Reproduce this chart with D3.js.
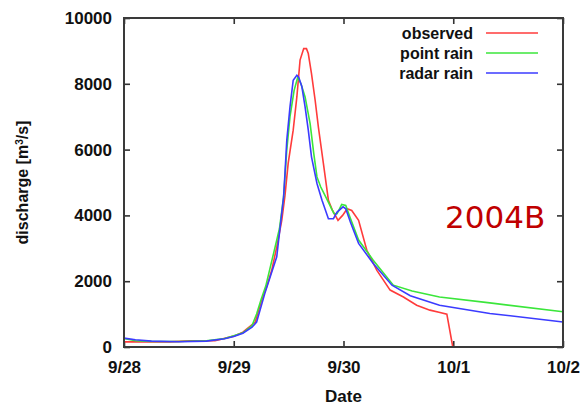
<!DOCTYPE html>
<html>
<head>
<meta charset="utf-8">
<script src="https://cdn.jsdelivr.net/npm/d3@7"></script>
<style>
  body { margin: 0; background: #fff; }
  svg { display: block; }
  .lbl { font-family: "Liberation Sans", Arial, sans-serif; font-weight: bold; fill: #111; }
</style>
</head>
<body>
<svg></svg>
<script>
// ### Data (hours since 9/28 00:00, discharge m3/s) ###
var dayLabels = ['9/28', '9/29', '9/30', '10/1', '10/2'];
var dayHours = [0, 24, 48, 72, 96];
var yTicks = [0, 2000, 4000, 6000, 8000, 10000];
var seriesNames = ['observed', 'point rain', 'radar rain'];
var seriesColors = ['#ff3b3b', '#3be63b', '#3b3bff'];

var obsHours = [0, 10, 14.4, 19.9, 24, 26, 28.7, 30.1, 31.2, 32.3, 33.4, 34.5, 35.2, 35.9, 37, 37.8, 38.5, 39.3, 39.9, 40.3, 41, 41.8, 42.5, 43.6, 44.7, 45.6, 46.8, 47.8, 48.8, 49.8, 51.3, 53.1, 55.3, 58.2, 61.1, 64, 66.9, 69.1, 70.6, 71.9];
var obsQ = [155, 155, 185, 190, 330, 450, 760, 1420, 1830, 2330, 3040, 3850, 4600, 5580, 6590, 7600, 8720, 9070, 9070, 8920, 8310, 7500, 6690, 5580, 4460, 4150, 3850, 4000, 4200, 4150, 3850, 2940, 2330, 1730, 1520, 1270, 1120, 1050, 1000, 0];

var pointHours = [0, 2.5, 6, 12, 18, 22, 24, 26, 28, 29, 30, 31, 32.7, 34, 34.9, 35.6, 36.3, 37.2, 38, 38.7, 39.6, 40.7, 41.5, 42.2, 43, 44.5, 45.4, 45.9, 46.6, 47.6, 48.5, 49.4, 51.3, 54.5, 58.9, 63, 69, 80, 96];
var pointQ = [260, 190, 170, 165, 190, 260, 340, 430, 650, 1000, 1450, 1850, 2840, 3600, 4560, 6000, 7000, 7800, 8200, 8000, 7600, 6790, 5880, 5170, 4870, 4460, 4200, 4060, 4050, 4330, 4300, 3950, 3250, 2640, 1880, 1700, 1520, 1340, 1070];

var radarHours = [0, 2.5, 6, 12, 18, 22, 24, 26, 28, 29, 30.8, 33.4, 34.9, 35.2, 35.6, 36.3, 37, 37.8, 38.2, 38.9, 39.6, 40.3, 41, 42.2, 43.3, 44.7, 45.8, 46.6, 47.9, 48.5, 49.5, 51.3, 54.5, 58.6, 62.6, 69, 80, 96];
var radarQ = [270, 220, 180, 160, 180, 250, 320, 420, 600, 760, 1630, 2740, 4560, 5270, 6290, 7300, 8110, 8260, 8200, 7910, 7300, 6590, 5780, 4970, 4460, 3900, 3900, 4100, 4260, 4200, 3800, 3150, 2540, 1880, 1560, 1270, 1020, 760];

// ### Setting up canvas ###
var W = 581, H = 405;
var margin = {top: 18, right: 18, bottom: 58, left: 124};
var width = W - margin.left - margin.right;
var height = H - margin.top - margin.bottom;

var svg = d3.select('svg').attr('width', W).attr('height', H);
var g = svg.append('g').attr('transform', `translate(${margin.left},${margin.top})`);

// ### Scales ###
var xScale = d3.scaleLinear().domain([0, 96]).range([0, width]);
var yScale = d3.scaleLinear().domain([0, 10000]).range([height, 0]);

// ### Axes (ticks point inward, mirrored) ###
function styleAxis(sel) {
  sel.select('.domain').remove();
  sel.selectAll('.tick line').attr('stroke', '#333').attr('stroke-width', 1.6);
  sel.selectAll('.tick text').attr('class', 'lbl').style('font-size', '17px');
}

g.append('g')
  .attr('transform', `translate(0,${height})`)
  .call(d3.axisBottom(xScale).tickValues(dayHours)
    .tickFormat((d, i) => dayLabels[i]).tickSize(-6).tickPadding(14))
  .call(styleAxis);

g.append('g')
  .call(d3.axisTop(xScale).tickValues(dayHours).tickFormat('').tickSize(-6))
  .call(styleAxis);

g.append('g')
  .call(d3.axisLeft(yScale).tickValues(yTicks).tickFormat(d3.format('d'))
    .tickSize(-6).tickPadding(12))
  .call(styleAxis);

g.append('g')
  .attr('transform', `translate(${width},0)`)
  .call(d3.axisRight(yScale).tickValues(yTicks).tickFormat('').tickSize(-6))
  .call(styleAxis);

// ### Lines ###
var line = d3.line().x(d => xScale(d[0])).y(d => yScale(d[1]));
var series = [
  d3.zip(obsHours, obsQ),
  d3.zip(pointHours, pointQ),
  d3.zip(radarHours, radarQ)
];

g.selectAll('path.series')
  .data(series)
  .enter()
  .append('path')
  .attr('class', 'series')
  .attr('d', line)
  .attr('fill', 'none')
  .attr('stroke', (d, i) => seriesColors[i])
  .attr('stroke-width', 1.6);

// frame
g.append('rect')
  .attr('width', width).attr('height', height)
  .attr('fill', 'none').attr('stroke', '#3a3a3a').attr('stroke-width', 2);

// ### Legend ###
var legend = g.selectAll('g.leg')
  .data(seriesNames)
  .enter()
  .append('g')
  .attr('class', 'leg')
  .attr('transform', (d, i) => `translate(0,${15 + i * 20})`);

legend.append('text')
  .attr('class', 'lbl')
  .attr('x', 349).attr('dy', '0.35em')
  .attr('text-anchor', 'end')
  .style('font-size', '16px')
  .text(d => d);

legend.append('line')
  .attr('x1', 362).attr('x2', 414)
  .attr('stroke', (d, i) => seriesColors[i])
  .attr('stroke-width', 1.6);

// ### Axis titles ###
svg.append('text')
  .attr('class', 'lbl')
  .attr('x', margin.left + width / 2).attr('y', 402)
  .attr('text-anchor', 'middle')
  .style('font-size', '17px')
  .text('Date');

var yt = svg.append('text')
  .attr('class', 'lbl')
  .attr('transform', `translate(28,${margin.top + height / 2}) rotate(-90)`)
  .attr('text-anchor', 'middle')
  .style('font-size', '16px');
yt.append('tspan').text('discharge [m');
yt.append('tspan').attr('baseline-shift', 'super').style('font-size', '10px').text('3');
yt.append('tspan').text('/s]');

// ### Event label ###
svg.append('text')
  .attr('x', 445).attr('y', 228)
  .style('font-family', '"DejaVu Sans", sans-serif')
  .style('font-size', '31px')
  .attr('fill', '#c00000')
  .text('2004B');
</script>
</body>
</html>
